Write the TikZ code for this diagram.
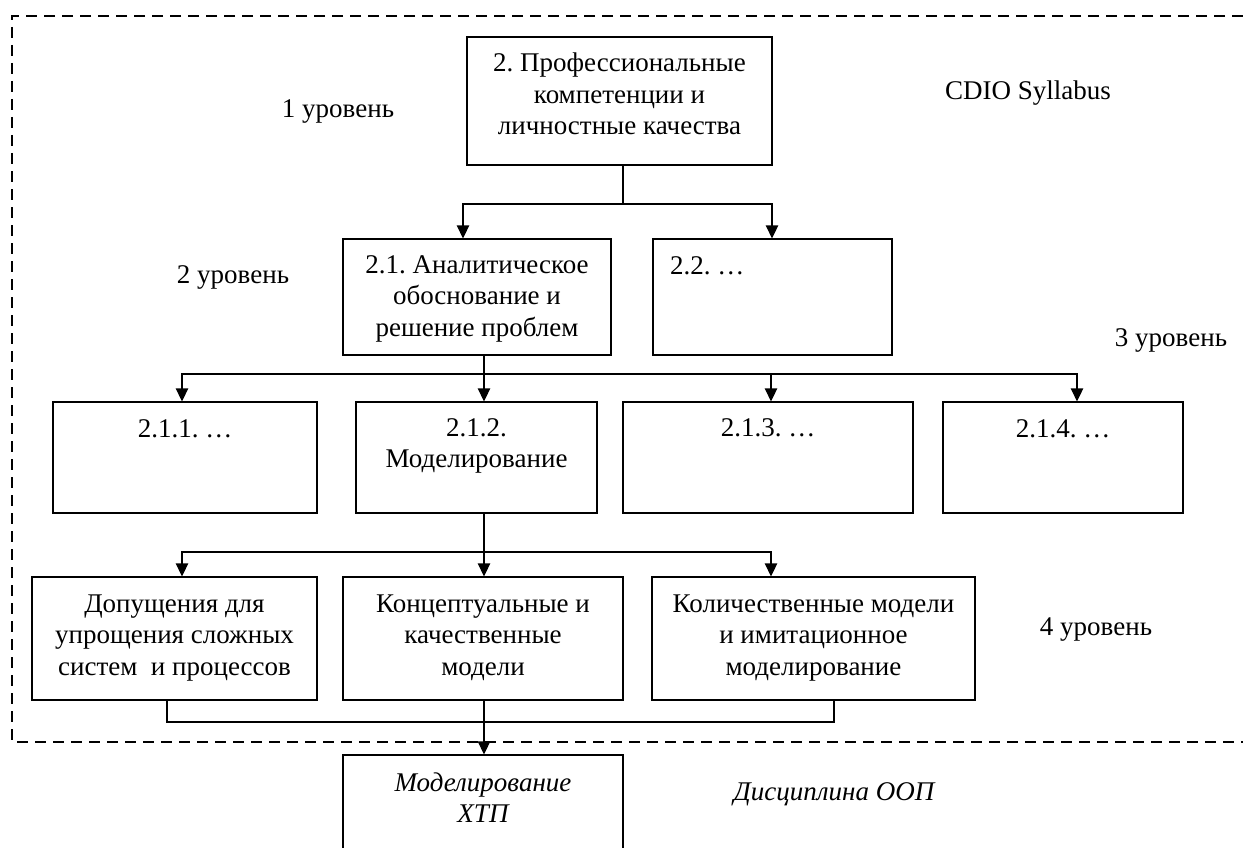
\documentclass[tikz,border=0pt]{standalone}
\usepackage{fontspec}
\setmainfont{Liberation Serif}
\usetikzlibrary{arrows.meta}
\frenchspacing
\newcommand{\mlines}[1]{\parbox[t]{340pt}{\centering #1}}
\tikzset{
  boxnode/.style={draw, rectangle, inner sep=0pt, line width=1.3pt},
  txt/.style={inner sep=0pt, anchor=base, font=\fontsize{27}{31.5}\selectfont},
  conn/.style={line width=1.3pt},
  arr/.style={conn, -{Triangle[width=12.5pt,length=13pt]}},
  frame/.style={line width=1.3pt, dash pattern=on 11pt off 7pt}
}
\begin{document}
\begin{tikzpicture}[x=1pt,y=-1pt]
\useasboundingbox (0,0) rectangle (1243,848);
\clip (0,0) rectangle (1243,848);
\fill[white] (0,0) rectangle (1243,848);

% dashed frame
\coordinate (ftr) at (1243,16);
\coordinate (ftl) at (12,16);
\coordinate (fbl) at (12,742);
\coordinate (fbr) at (1243,742);
\draw[frame] (ftr) -- (ftl) -- (fbl) -- (fbr);

% boxes
\node[boxnode, minimum width=305, minimum height=128] (top) at (619.5,101) {};
\node[boxnode, minimum width=268, minimum height=116] (b21) at (477,297) {};
\node[boxnode, minimum width=239, minimum height=116] (b22) at (772.5,297) {};
\node[boxnode, minimum width=264, minimum height=111] (b211) at (185,457.5) {};
\node[boxnode, minimum width=241, minimum height=111] (b212) at (476.5,457.5) {};
\node[boxnode, minimum width=290, minimum height=111] (b213) at (768,457.5) {};
\node[boxnode, minimum width=240, minimum height=111] (b214) at (1063,457.5) {};
\node[boxnode, minimum width=285, minimum height=123] (b41) at (174.5,638.5) {};
\node[boxnode, minimum width=280, minimum height=123] (b42) at (483,638.5) {};
\node[boxnode, minimum width=323, minimum height=123] (b43) at (813.5,638.5) {};
\node[boxnode, minimum width=280, minimum height=145] (bot) at (483,827.5) {};

% box texts
\node[txt] (toptx) at (619.5,72) {\mlines{2. Профессиональные\\компетенции и\\личностные качества}};
\node[txt] (b21tx) at (477,273) {\mlines{2.1. Аналитическое\\обоснование и\\решение проблем}};
\node[txt, anchor=base west] (b22tx) at (670,274) {2.2. …};
\node[txt] (b211tx) at (185,437) {2.1.1. …};
\node[txt] (b212tx) at (476.5,436) {\mlines{2.1.2.\\Моделирование}};
\node[txt] (b213tx) at (768,436) {2.1.3. …};
\node[txt] (b214tx) at (1063,437) {2.1.4. …};
\node[txt] (b41tx) at (174.5,612) {\mlines{Допущения для\\упрощения сложных\\систем \ и процессов}};
\node[txt] (b42tx) at (483,612) {\mlines{Концептуальные и\\качественные\\модели}};
\node[txt] (b43tx) at (813.5,612) {\mlines{Количественные модели\\и имитационное\\моделирование}};
\node[txt, font=\fontsize{27}{31.5}\selectfont\itshape] (bottx) at (483,791) {\mlines{Моделирование\\ХТП}};

% side labels
\node[txt] (lvl1) at (338,118) {1 уровень};
\node[txt] (cdio) at (1028,100) {CDIO Syllabus};
\node[txt] (lvl2) at (233,283) {2 уровень};
\node[txt] (lvl3) at (1171,346) {3 уровень};
\node[txt] (lvl4) at (1096,635) {4 уровень};
\node[txt, font=\fontsize{27}{31.5}\selectfont\itshape] (disc) at (834,800) {Дисциплина ООП};

% level 1 -> level 2
\coordinate (j1) at (623,204);
\draw[conn] (top.south -| j1) -- (j1);
\draw[arr] (j1) -| ([xshift=-14pt]b21.north);
\draw[arr] (j1) -| ([xshift=-0.5pt]b22.north);

% level 2 -> level 3
\coordinate (j2) at (484,374);
\draw[conn] (b21.south -| j2) -- (j2);
\draw[arr] (j2) -| ([xshift=-3pt]b211.north);
\draw[arr] (j2) -- (b212.north -| j2);
\draw[arr] (j2) -| ([xshift=3pt]b213.north);
\draw[arr] (j2) -| ([xshift=14pt]b214.north);

% level 3 -> level 4
\coordinate (j3) at (484,552);
\draw[conn] (b212.south -| j3) -- (j3);
\draw[arr] (j3) -| ([xshift=7.5pt]b41.north);
\draw[arr] (j3) -- (b42.north -| j3);
\draw[arr] (j3) -| ([xshift=-42.5pt]b43.north);

% level 4 -> discipline
\coordinate (j4) at (484,722);
\draw[conn] ([xshift=-7.5pt]b41.south) |- (j4) -| ([xshift=20.5pt]b43.south);
\draw[arr] (b42.south -| j4) -- (bot.north -| j4);
\end{tikzpicture}
\end{document}
